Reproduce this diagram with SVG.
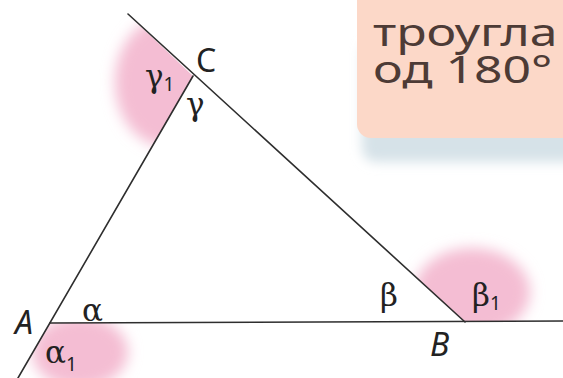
<svg xmlns="http://www.w3.org/2000/svg" width="563" height="378" viewBox="0 0 563 378">
  <style>
    .ln { stroke: #2e2e2e; stroke-width: 1.6; fill: none; stroke-linecap: round; }
    .lbl { font-family: "Noto Sans", "Open Sans", sans-serif; font-size: 32px; fill: #222; }
    .it { font-style: italic; }
    .gr { font-family: "DejaVu Serif", "Liberation Serif", serif; font-size: 31px; fill: #222; }
    .sub { font-family: "Noto Sans", sans-serif; font-size: 19px; }
    .box { font-family: "Noto Sans", "Open Sans", sans-serif; font-size: 39px; fill: #4d3b36; }
  </style>
  <defs>
    <filter id="blur" x="-50%" y="-50%" width="200%" height="200%">
      <feGaussianBlur stdDeviation="7"/>
    </filter>
    <filter id="shblur" x="-20%" y="-50%" width="140%" height="200%">
      <feGaussianBlur stdDeviation="6"/>
    </filter>
    <clipPath id="clipC">
      <polygon points="193,76 93,-19 -100,-19 -100,378 18,378"/>
    </clipPath>
    <clipPath id="clipA">
      <polygon points="50,323 250,323 250,400 4,400"/>
    </clipPath>
    <clipPath id="clipB">
      <polygon points="465,322 300,172 600,172 600,322"/>
    </clipPath>
  </defs>

  <rect width="563" height="378" fill="#ffffff"/>

  <!-- info box -->
  <g id="infobox">
    <rect x="362" y="40" width="230" height="122" rx="14" fill="#d6e2e8" filter="url(#shblur)"/>
    <rect x="357" y="-20" width="240" height="158" rx="14" fill="#fcd8c8"/>
    <g transform="translate(373,0) scale(1.28,1)">
      <text class="box"><tspan x="0" y="46">троугла</tspan><tspan x="0" y="83">од 180°</tspan></text>
    </g>
  </g>

  <!-- shaded angle regions -->
  <g id="shadeC" clip-path="url(#clipC)">
    <ellipse cx="165" cy="82" rx="50" ry="64" fill="#f4bdd3" filter="url(#blur)"/>
  </g>
  <g id="shadeA" clip-path="url(#clipA)">
    <ellipse cx="80" cy="352" rx="48" ry="36" fill="#f4bdd3" filter="url(#blur)"/>
  </g>
  <g id="shadeB" clip-path="url(#clipB)">
    <ellipse cx="472" cy="292" rx="58" ry="44" fill="#f4bdd3" filter="url(#blur)"/>
  </g>

  <!-- lines -->
  <g id="connectors">
    <line class="ln" x1="128" y1="14" x2="465" y2="322"/>
    <line class="ln" x1="18" y1="378" x2="193" y2="76"/>
    <line class="ln" x1="50" y1="323" x2="563" y2="321"/>
  </g>

  <!-- vertex labels -->
  <g id="vertexA"><text class="lbl it" x="15" y="334">A</text></g>
  <g id="vertexB"><text class="lbl it" x="430" y="356">B</text></g>
  <g id="vertexC"><text class="lbl" x="196" y="72">C</text></g>

  <!-- angle labels -->
  <g id="angleAlpha"><text class="gr" x="82" y="321">α</text></g>
  <g id="angleAlpha1"><text class="gr" x="45" y="363">α<tspan class="sub" dy="8">1</tspan></text></g>
  <g id="angleBeta"><text class="gr" x="380" y="306">β</text></g>
  <g id="angleBeta1"><text class="gr" x="472" y="306">β<tspan class="sub" dy="4">1</tspan></text></g>
  <g id="angleGamma"><text class="gr" x="186" y="115">γ</text></g>
  <g id="angleGamma1"><text class="gr" x="145" y="87">γ<tspan class="sub" dy="4">1</tspan></text></g>
</svg>
